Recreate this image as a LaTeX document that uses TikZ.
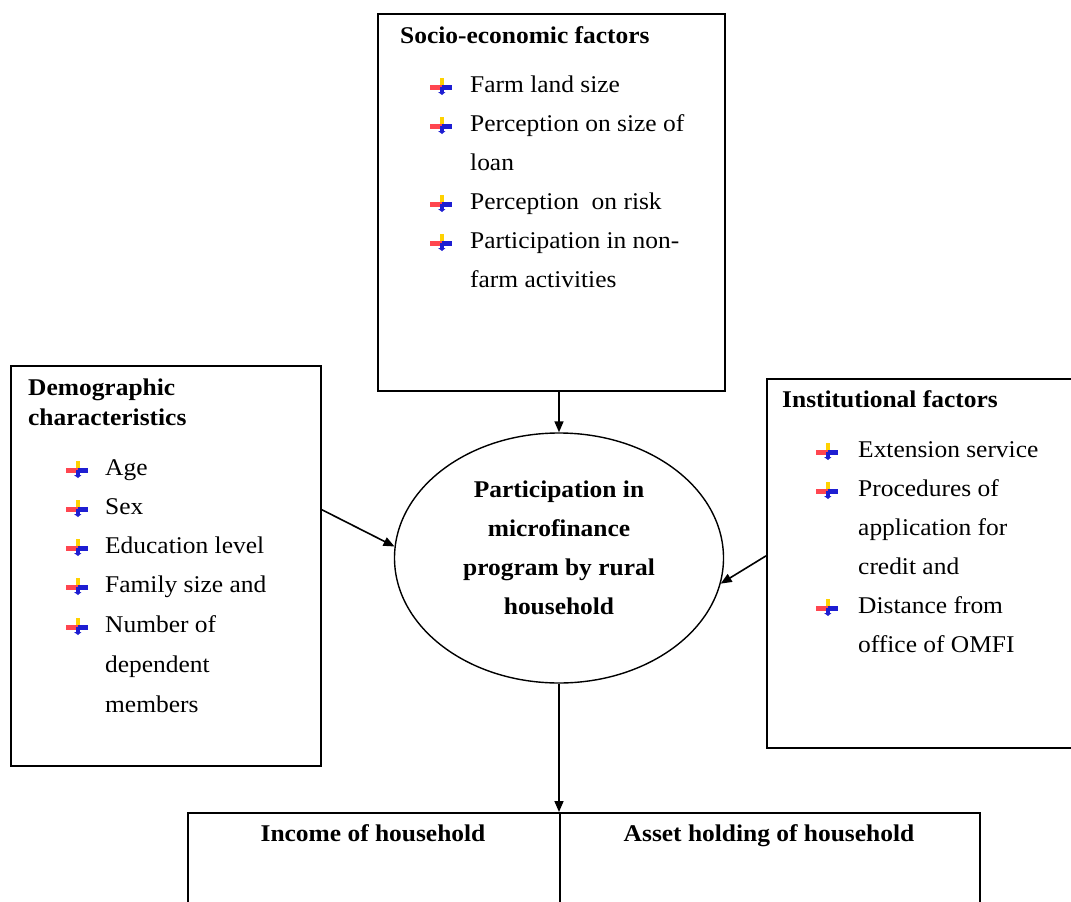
\documentclass[tikz,border=0pt]{standalone}
\usepackage{fontspec}
\setmainfont{Liberation Serif}[FakeStretch=1.06]
\usetikzlibrary{arrows.meta,shapes.geometric,calc}
\definecolor{byellow}{RGB}{255,210,0}
\definecolor{bred}{RGB}{255,70,80}
\definecolor{bblue}{RGB}{30,30,210}
\tikzset{
  box/.style={draw, line width=1.6pt, rectangle, inner sep=0pt, anchor=north west},
  txt/.style={anchor=base west, inner sep=0pt, font=\fontsize{24}{39}\selectfont},
  head/.style={anchor=base west, inner sep=0pt, font=\fontsize{24}{39}\selectfont\bfseries},
  arr/.style={line width=1.6pt, -{Triangle[length=11pt,width=9pt]}},
  bul/.pic={
    \fill[byellow] (-2.5,-14) rectangle (2,-4);
    \fill[bred] (-12,-7) rectangle (0,-2);
    \fill[bblue] (0,-7) rectangle (10,-2);
    \fill[bblue] (-2.5,-5) rectangle (2,1);
    \fill[bblue] (-4,0) -- (3.5,0) -- (0,3) -- cycle;
  }
}
\begin{document}
\begin{tikzpicture}[x=1pt,y=-1pt]
\useasboundingbox (0,0) rectangle (1071,902);
\fill[white] (0,0) rectangle (1071,902);

% boxes
\node[box, minimum width=347pt, minimum height=377pt] (socio) at (377,13) {};
\node[box, minimum width=310pt, minimum height=400pt] (demo) at (10,365) {};
\node[box, minimum width=310pt, minimum height=369pt] (inst) at (766,378) {};
\node[draw, ellipse, line width=1.4pt, minimum width=329pt, minimum height=250pt, inner sep=0pt] (part) at (559,558) {};
\node[box, minimum width=372pt, minimum height=95pt] (income) at (187,812) {};
\node[box, minimum width=420pt, minimum height=95pt] (asset) at (559,812) {};

% socio-economic
\node[head] (sociot) at (400,43) {Socio-economic factors};
\foreach \t/\y/\b [count=\i] in {Farm land size/92/1, Perception on size of/131/1, loan/170/0, Perception\ \ on risk/209/1, Participation in non-/248/1, farm activities/287/0}{
  \node[txt] (s\i) at (470,\y) {\t};
  \ifnum\b=1 \pic at (442,\y) {bul};\fi
}

% demographic
\node[head] (demot1) at (28,395) {Demographic};
\node[head] (demot2) at (28,425) {characteristics};
\foreach \t/\y/\b [count=\i] in {Age/475/1, Sex/514/1, Education level/553/1, Family size and/592/1, Number of/632/1, dependent/672/0, members/712/0}{
  \node[txt] (d\i) at (105,\y) {\t};
  \ifnum\b=1 \pic at (78,\y) {bul};\fi
}

% institutional
\node[head] (instt) at (782,407) {Institutional factors};
\foreach \t/\y/\b [count=\i] in {Extension service/457/1, Procedures of/496/1, application for/535/0, credit and/574/0, Distance from/613/1, office of OMFI/652/0}{
  \node[txt] (n\i) at (858,\y) {\t};
  \ifnum\b=1 \pic at (828,\y) {bul};\fi
}

% ellipse text
\node[head, anchor=base] (p1) at (559,497) {Participation in};
\node[head, anchor=base] (p2) at (559,536) {microfinance};
\node[head, anchor=base] (p3) at (559,575) {program by rural};
\node[head, anchor=base] (p4) at (559,614) {household};

% outcome labels
\node[head, anchor=base] (inct) at (373,841) {Income of household};
\node[head, anchor=base] (asst) at (769,841) {Asset holding of household};

% connectors
\draw[arr] (part.north |- socio.south) -- (part.north);
\draw[arr] ($(demo.north east)!0.36!(demo.south east)$) -- (part.176);
\draw[arr] ($(inst.north west)!0.48!(inst.south west)$) -- (part.-9);
\draw[arr] (part.south) -- (asset.north west);
\end{tikzpicture}
\end{document}
